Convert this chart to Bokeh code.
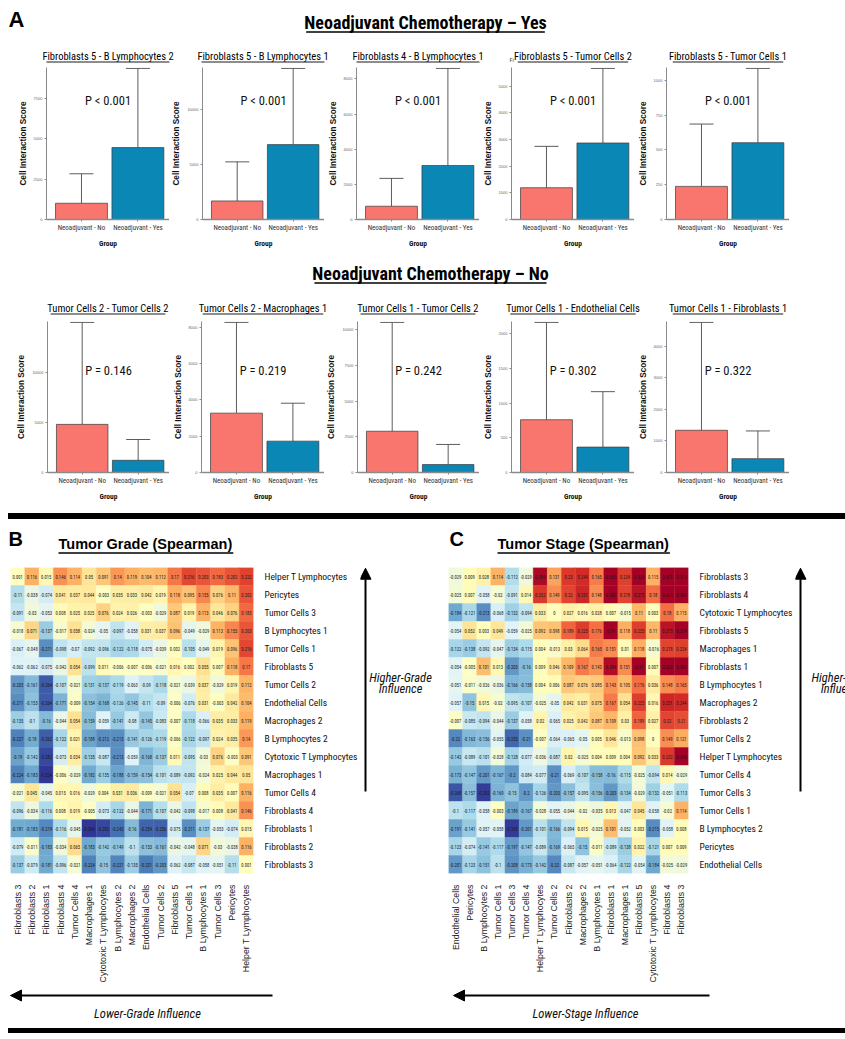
import math
import numpy as np
from bokeh.plotting import figure
from bokeh.models import (ColumnDataSource, Range1d, FixedTicker, Whisker, TeeHead, Label,
                          Arrow, NormalHead, FactorRange, Div, Spacer)
from bokeh.layouts import column, row
from bokeh.transform import linear_cmap
from bokeh.core.properties import value
from bokeh.embed import file_html
from bokeh.resources import INLINE

NARROW = "Roboto Condensed, DejaVu Sans Condensed, Liberation Sans Narrow, Arial Narrow, Liberation Sans"
ARIAL = "Liberation Sans"
RED = "#F8766D"
BLUE = "#0A87B5"

# ---------------- Panel A data ----------------
group_labels = ["Neoadjuvant - No", "Neoadjuvant - Yes"]

yes_titles = ["Fibroblasts 5 - B Lymphocytes 2", "Fibroblasts 5 - B Lymphocytes 1",
              "Fibroblasts 4 - B Lymphocytes 1", "Fibroblasts 5 - Tumor Cells 2",
              "Fibroblasts 5 - Tumor Cells 1"]
yes_mean_no = [1004, 1687, 755, 1190, 238]
yes_mean_yes = [4447, 6807, 3075, 2866, 552]
yes_err_no = [2828, 5241, 2340, 2740, 686]
yes_err_yes = [9344, 13735, 8600, 5660, 1086]
yes_ticks = [[0, 2500, 5000, 7500], [0, 5000, 10000], [0, 2000, 4000, 6000, 8000],
             [0, 1000, 2000, 3000, 4000, 5000], [0, 250, 500, 750, 1000]]
yes_p = ["P < 0.001", "P < 0.001", "P < 0.001", "P < 0.001", "P < 0.001"]

no_titles = ["Tumor Cells 2 - Tumor Cells 2", "Tumor Cells 2 - Macrophages 1",
             "Tumor Cells 1 - Tumor Cells 2", "Tumor Cells 1 - Endothelial Cells",
             "Tumor Cells 1 - Fibroblasts 1"]
no_mean_no = [4800, 3270, 2894, 762, 1340]
no_mean_yes = [1217, 1727, 556, 367, 440]
no_err_no = [14970, 8270, 10530, 2167, 4764]
no_err_yes = [3290, 3818, 1968, 1167, 1319]
no_ticks = [[0, 5000, 10000], [0, 2000, 4000, 6000, 8000], [0, 2500, 5000, 7500, 10000],
            [0, 500, 1000, 1500, 2000], [0, 1000, 2000, 3000, 4000]]
no_p = ["P = 0.146", "P = 0.219", "P = 0.242", "P = 0.302", "P = 0.322"]

# ---------------- Panel B data ----------------
grade_rows = ["Helper T Lymphocytes", "Pericytes", "Tumor Cells 3", "B Lymphocytes 1", "Tumor Cells 1",
              "Fibroblasts 5", "Tumor Cells 2", "Endothelial Cells", "Macrophages 2", "B Lymphocytes 2",
              "Cytotoxic T Lymphocytes", "Macrophages 1", "Tumor Cells 4", "Fibroblasts 4",
              "Fibroblasts 1", "Fibroblasts 2", "Fibroblasts 3"]
grade_cols = ["Fibroblasts 3", "Fibroblasts 2", "Fibroblasts 1", "Fibroblasts 4", "Tumor Cells 4",
              "Macrophages 1", "Cytotoxic T Lymphocytes", "B Lymphocytes 2", "Macrophages 2",
              "Endothelial Cells", "Tumor Cells 2", "Fibroblasts 5", "Tumor Cells 1", "B Lymphocytes 1",
              "Tumor Cells 3", "Pericytes", "Helper T Lymphocytes"]
grade_values = [
    [0.001, 0.116, 0.015, 0.146, 0.114, 0.05, 0.091, 0.14, 0.119, 0.104, 0.112, 0.17, 0.216, 0.203, 0.183, 0.202, 0.222],
    [-0.11, -0.038, -0.074, 0.041, 0.037, 0.044, -0.003, 0.035, 0.033, 0.042, 0.019, 0.118, 0.095, 0.155, 0.076, 0.11, 0.202],
    [-0.091, -0.03, -0.053, 0.008, 0.025, 0.025, 0.076, 0.024, 0.026, -0.003, -0.029, 0.087, 0.019, 0.113, 0.046, 0.076, 0.183],
    [-0.018, 0.071, -0.137, -0.017, 0.058, -0.024, -0.05, -0.097, -0.058, 0.031, 0.037, 0.096, -0.049, -0.029, 0.113, 0.155, 0.203],
    [-0.067, -0.048, -0.211, -0.098, -0.07, -0.092, -0.096, -0.122, -0.118, -0.075, -0.039, 0.002, -0.105, -0.049, 0.019, 0.096, 0.216],
    [-0.062, -0.062, -0.075, -0.042, 0.054, -0.099, 0.011, -0.006, -0.007, -0.006, -0.021, 0.016, 0.002, 0.055, 0.007, 0.118, 0.17],
    [-0.203, -0.161, -0.264, -0.107, -0.021, -0.131, -0.137, -0.119, -0.063, -0.09, -0.118, -0.021, -0.039, 0.037, -0.029, 0.019, 0.112],
    [-0.211, -0.153, -0.264, -0.171, -0.009, -0.154, -0.168, -0.126, -0.145, -0.11, -0.09, -0.006, -0.076, 0.031, -0.003, 0.042, 0.104],
    [-0.135, -0.1, -0.16, -0.044, 0.054, -0.159, -0.059, -0.141, -0.08, -0.145, -0.083, -0.007, -0.118, -0.066, 0.035, 0.033, 0.119],
    [-0.227, -0.18, -0.262, -0.122, 0.021, -0.188, -0.212, -0.213, -0.141, -0.126, -0.119, -0.006, -0.122, -0.097, 0.024, 0.035, 0.14],
    [-0.19, -0.142, -0.282, -0.073, 0.034, -0.135, -0.087, -0.213, -0.059, -0.168, -0.137, 0.011, -0.095, -0.03, 0.076, -0.003, 0.091],
    [-0.224, -0.183, -0.324, -0.006, -0.029, -0.182, -0.135, -0.188, -0.159, -0.154, -0.101, -0.089, -0.092, -0.024, 0.025, 0.044, 0.05],
    [-0.021, 0.045, -0.045, 0.015, 0.016, -0.029, 0.004, 0.031, 0.036, -0.009, -0.021, 0.054, -0.07, 0.008, 0.035, 0.007, 0.116],
    [-0.096, -0.034, -0.116, 0.008, 0.019, -0.005, -0.073, -0.122, -0.044, -0.171, -0.107, -0.042, -0.098, -0.017, 0.008, 0.041, 0.146],
    [-0.181, -0.183, -0.219, -0.116, -0.045, -0.304, -0.282, -0.243, -0.16, -0.254, -0.256, -0.075, -0.211, -0.137, -0.053, -0.074, 0.015],
    [-0.079, -0.011, -0.183, -0.034, 0.065, -0.183, -0.142, -0.149, -0.1, -0.153, -0.161, -0.042, -0.048, 0.071, -0.03, -0.038, 0.116],
    [-0.137, -0.079, -0.181, -0.096, -0.021, -0.224, -0.15, -0.221, -0.135, -0.231, -0.203, -0.062, -0.087, -0.058, -0.051, -0.11, 0.001],
]

# ---------------- Panel C data ----------------
stage_rows = ["Fibroblasts 3", "Fibroblasts 4", "Cytotoxic T Lymphocytes", "Fibroblasts 5", "Macrophages 1",
              "Fibroblasts 1", "B Lymphocytes 1", "Macrophages 2", "Fibroblasts 2", "Tumor Cells 2",
              "Helper T Lymphocytes", "Tumor Cells 4", "Tumor Cells 3", "Tumor Cells 1", "B Lymphocytes 2",
              "Pericytes", "Endothelial Cells"]
stage_cols = ["Endothelial Cells", "Pericytes", "B Lymphocytes 2", "Tumor Cells 1", "Tumor Cells 3",
              "Tumor Cells 4", "Helper T Lymphocytes", "Tumor Cells 2", "Fibroblasts 2", "Macrophages 2",
              "B Lymphocytes 1", "Fibroblasts 1", "Macrophages 1", "Fibroblasts 5",
              "Cytotoxic T Lymphocytes", "Fibroblasts 4", "Fibroblasts 3"]
stage_values = [
    [-0.029, 0.009, 0.028, 0.114, -0.112, -0.029, 0.289, 0.131, 0.23, 0.244, 0.165, 0.305, 0.224, 0.324, 0.115, 0.301, 0.314],
    [-0.025, 0.007, -0.058, -0.02, -0.091, 0.014, 0.232, 0.149, 0.22, 0.251, 0.148, 0.302, 0.218, 0.275, 0.18, 0.311, 0.301],
    [-0.184, -0.121, -0.213, -0.068, -0.132, -0.094, 0.033, 0.0, 0.027, 0.016, 0.028, 0.007, -0.015, 0.11, 0.003, 0.18, 0.115],
    [-0.054, 0.052, 0.003, 0.049, -0.059, -0.025, 0.092, 0.098, 0.189, 0.225, 0.176, 0.31, 0.118, 0.225, 0.11, 0.275, 0.324],
    [-0.122, -0.138, -0.092, -0.047, -0.134, -0.115, 0.004, -0.013, 0.03, 0.064, 0.165, 0.151, 0.01, 0.118, -0.016, 0.218, 0.224],
    [-0.054, -0.005, 0.101, 0.013, -0.203, -0.16, 0.009, 0.046, 0.109, 0.167, 0.143, 0.284, 0.151, 0.31, 0.007, 0.302, 0.301],
    [-0.051, -0.011, -0.026, -0.036, -0.166, -0.158, 0.004, 0.006, 0.087, 0.076, 0.085, 0.143, 0.105, 0.176, 0.036, 0.148, 0.165],
    [-0.057, -0.15, 0.015, -0.02, -0.095, -0.107, -0.025, -0.05, 0.042, 0.031, 0.075, 0.167, 0.054, 0.225, 0.016, 0.251, 0.244],
    [-0.007, -0.085, -0.094, -0.044, -0.137, -0.058, 0.02, -0.065, 0.025, 0.042, 0.087, 0.109, 0.03, 0.189, 0.027, 0.22, 0.21],
    [-0.22, -0.163, -0.156, -0.055, -0.253, -0.21, -0.007, -0.064, -0.065, -0.05, 0.005, 0.046, -0.013, 0.098, 0.0, 0.149, 0.121],
    [-0.142, -0.089, -0.101, -0.028, -0.128, -0.077, -0.036, -0.087, 0.02, -0.025, 0.004, 0.009, 0.004, 0.092, 0.033, 0.232, 0.299],
    [-0.173, -0.147, -0.201, -0.167, -0.2, -0.084, -0.077, -0.21, -0.069, -0.107, -0.158, -0.16, -0.115, -0.025, -0.094, 0.014, -0.029],
    [-0.268, -0.157, -0.292, -0.169, -0.15, -0.2, -0.126, -0.203, -0.157, -0.095, -0.156, -0.203, -0.134, -0.029, -0.132, -0.051, -0.113],
    [-0.1, -0.117, -0.058, -0.003, -0.189, -0.167, -0.028, -0.055, -0.044, -0.02, -0.035, 0.013, -0.047, 0.045, -0.058, -0.02, 0.114],
    [-0.191, -0.141, -0.057, -0.058, -0.293, -0.201, -0.101, -0.166, -0.094, 0.015, -0.025, 0.101, -0.052, 0.003, -0.215, -0.058, 0.008],
    [-0.123, -0.074, -0.141, -0.117, -0.197, -0.147, -0.089, -0.169, -0.065, -0.15, -0.011, -0.089, -0.138, 0.022, -0.121, 0.007, 0.009],
    [-0.201, -0.123, -0.151, -0.1, -0.208, -0.173, -0.142, -0.22, -0.087, -0.057, -0.051, -0.064, -0.122, -0.054, -0.184, -0.025, -0.029],
]

# ---------------- helpers ----------------
BASE = ["#313695", "#4575b4", "#74add1", "#abd9e9", "#e0f3f8", "#ffffbf",
        "#fee090", "#fdae61", "#f46d43", "#d73027", "#a50026"]


def interp_palette(base, n):
    rgb = np.array([[int(h[i:i + 2], 16) for i in (1, 3, 5)] for h in base], float)
    out = []
    for t in np.linspace(0, len(base) - 1, n):
        k = min(int(t), len(base) - 2)
        f = t - k
        c = rgb[k] * (1 - f) + rgb[k + 1] * f
        out.append("#%02x%02x%02x" % tuple(int(round(x)) for x in c))
    return out


PALETTE = interp_palette(BASE, 256)

_REG = {}
for chars, w in [("ijl", 222), ("ftI .", 278), ("r-()", 333), ("cksvxyzJ", 500),
                 ("abdeghnopquL0123456789\u2013", 556), ("<=", 584), ("FTZ", 611),
                 ("ABEKPSVXY", 667), ("CDHNRUw", 722), ("GOQ", 778), ("mM", 833), ("W", 944)]:
    for ch in chars:
        _REG[ch] = w
_BOLD = {}
for chars, w in [("ijlI .", 278), ("ft-()", 333), ("r", 389), ("z", 500),
                 ("aceksvxyJ0123456789\u2013", 556), ("<=", 584), ("bdghnopquFLTZ", 611),
                 ("EPSVXY", 667), ("ABCDHKNRU", 722), ("GOQw", 778), ("M", 833), ("m", 889), ("W", 944)]:
    for ch in chars:
        _BOLD[ch] = w


def text_width(s, size, bold=False, narrow=False):
    table = _BOLD if bold else _REG
    w = sum(table.get(ch, 556) for ch in s) / 1000.0 * size
    return w * (0.82 if narrow else 1.0)


def fmt(v):
    s = f"{v:.3f}".rstrip("0").rstrip(".")
    return "0" if s in ("-0", "") else s


def pixel_fig(w, h):
    """A blank figure whose data space equals its pixel space (origin top-left)."""
    p = figure(width=w, height=h, x_range=Range1d(0, w), y_range=Range1d(h, 0), title=None,
               min_border=0, output_backend="svg", toolbar_location=None)
    p.axis.visible = False
    p.grid.visible = False
    p.outline_line_color = None
    return p


def put_text(p, x, y, text, font, size, style="normal", align="left", baseline="alphabetic",
             color="black"):
    # y is the text baseline; convert to the visual middle of the capitals
    if baseline == "alphabetic":
        y = y - 0.36 * size
        baseline = "middle"
    p.text(x=[x], y=[y], text=[text], text_font=value(font), text_font_size=value(f"{size}px"),
           text_font_style=style, text_align=align, text_baseline=baseline, text_color=color)


def put_title(p, cx, y, text, font, size, bold, narrow, ul_gap, lw, align="center"):
    put_text(p, cx, y, text, font, size, "bold" if bold else "normal", align)
    w = text_width(text, size, bold, narrow)
    x0 = cx - w / 2 if align == "center" else cx
    p.segment(x0=[x0], y0=[y + ul_gap], x1=[x0 + w], y1=[y + ul_gap], line_color="black",
              line_width=lw)


def bar_fig(m_no, m_yes, e_no, e_yes, ticks, ptxt, height, bbot, p_off):
    ymax = max(e_no, e_yes) * 1.006
    fh = height - bbot
    p = figure(width=155, height=height, x_range=Range1d(0.38, 2.56), y_range=Range1d(0, ymax),
               title=None, min_border_left=32, min_border_right=0, min_border_top=0,
               min_border_bottom=bbot, output_backend="svg", toolbar_location=None)
    src = ColumnDataSource(dict(x=[1, 2], top=[m_no, m_yes], err=[e_no, e_yes], color=[RED, BLUE]))
    p.vbar(x="x", top="top", width=0.92, fill_color="color", line_color="#3a3a3a", line_width=0.7,
           source=src)
    p.add_layout(Whisker(source=src, base="x", lower="top", upper="err", dimension="height",
                         line_color="#4a4a4a", line_width=0.9,
                         upper_head=TeeHead(size=24, line_color="#4a4a4a", line_width=0.9),
                         lower_head=None))
    p.grid.visible = False
    p.outline_line_color = None
    p.xaxis.ticker = FixedTicker(ticks=[1, 2])
    p.xaxis.major_label_overrides = {1: group_labels[0], 2: group_labels[1]}
    p.xaxis.axis_label = "Group"
    p.xaxis.axis_label_text_font = NARROW
    p.xaxis.axis_label_text_font_style = "bold"
    p.xaxis.axis_label_text_font_size = "7.5px"
    p.xaxis.axis_label_text_color = "#111111"
    p.xaxis.axis_label_standoff = 4
    p.xaxis.major_label_text_font = NARROW
    p.xaxis.major_label_text_font_size = "7px"
    p.xaxis.major_label_text_color = "#333333"
    p.xaxis.major_label_standoff = 2
    p.xaxis.axis_line_color = "#8a8a8a"
    p.xaxis.axis_line_width = 1.6
    p.xaxis.major_tick_line_color = "#8a8a8a"
    p.xaxis.major_tick_out = 2
    p.xaxis.major_tick_in = 0
    p.yaxis.ticker = FixedTicker(ticks=ticks)
    p.yaxis.axis_label = "Cell Interaction Score"
    p.yaxis.axis_label_text_font = ARIAL
    p.yaxis.axis_label_text_font_style = "bold"
    p.yaxis.axis_label_text_font_size = "8.2px"
    p.yaxis.axis_label_text_color = "#111111"
    p.yaxis.axis_label_standoff = 3
    p.yaxis.major_label_text_font_size = "4px"
    p.yaxis.major_label_text_color = "#666666"
    p.yaxis.major_label_standoff = 2
    p.yaxis.axis_line_color = "#8a8a8a"
    p.yaxis.axis_line_width = 1.0
    p.yaxis.major_tick_line_color = "#8a8a8a"
    p.yaxis.major_tick_out = 2
    p.yaxis.major_tick_in = 0
    p.yaxis.minor_tick_line_color = None
    p.add_layout(Label(x=1.47, y=ymax * (fh - p_off) / fh, text=ptxt, text_font=NARROW,
                       text_font_size="12.5px", text_align="center", text_baseline="middle",
                       text_color="#111111"))
    return p


def heat_fig(rows, cols, mat, width, bl, br, height, bbot):
    p = figure(width=width, height=height, x_range=FactorRange(factors=cols),
               y_range=FactorRange(factors=rows[::-1]), y_axis_location="right", title=None,
               min_border_left=bl, min_border_right=br, min_border_top=0, min_border_bottom=bbot,
               output_backend="svg", toolbar_location=None)
    xs, ys, vs, ts = [], [], [], []
    for i, r in enumerate(rows):
        for j, c in enumerate(cols):
            xs.append(c)
            ys.append(r)
            vs.append(mat[i][j])
            ts.append(fmt(mat[i][j]))
    src = ColumnDataSource(dict(col=xs, row=ys, val=vs, label=ts))
    cmap = linear_cmap("val", PALETTE, -0.3, 0.3)
    p.rect(x="col", y="row", width=1, height=1, source=src, fill_color=cmap, line_color=cmap,
           line_width=0.4)
    p.text(x="col", y="row", text="label", source=src, text_font=value(NARROW),
           text_font_size="4.6px", text_align="center", text_baseline="middle", text_color="#1a1a1a")
    p.grid.visible = False
    p.outline_line_color = None
    p.axis.axis_line_color = None
    p.axis.major_tick_line_color = None
    p.xaxis.major_label_orientation = math.pi / 2
    p.xaxis.major_label_text_font = ARIAL
    p.xaxis.major_label_text_font_size = "8.8px"
    p.xaxis.major_label_text_color = "#1a1a1a"
    p.xaxis.major_label_standoff = 5
    p.yaxis.major_label_text_font = NARROW
    p.yaxis.major_label_text_font_size = "9.5px"
    p.yaxis.major_label_text_color = "#111111"
    p.yaxis.major_label_standoff = 5
    return p


def side_fig(w, h, ax, tx, hi_text):
    p = pixel_fig(w, h)
    p.add_layout(Arrow(x_start=ax, y_start=306, x_end=ax, y_end=1, line_color="black", line_width=2,
                       end=NormalHead(size=11, fill_color="black", line_color="black")))
    put_text(p, tx, 150, hi_text[0], NARROW, 12.5, "italic", "center", "middle", "#111111")
    put_text(p, tx, 165, hi_text[1], NARROW, 12.5, "italic", "center", "middle", "#111111")
    return p


# ---------------- Panel A: titles ----------------
axis_x = [46 + 155 * i for i in range(5)]

top1 = pixel_fig(845, 67)
put_text(top1, 8, 27, "A", ARIAL, 22, "bold")
put_title(top1, 425, 28, "Neoadjuvant Chemotherapy \u2013 Yes", NARROW, 18, True, True, 3.5, 1.6)
for i, t in enumerate(yes_titles):
    put_title(top1, axis_x[i] + 61.5, 59.5, t, NARROW, 10.5, False, True, 2, 0.9)
put_text(top1, 509, 61, "Fi", NARROW, 6, color="#444444")

figs1 = [bar_fig(yes_mean_no[i], yes_mean_yes[i], yes_err_no[i], yes_err_yes[i], yes_ticks[i], yes_p[i],
                 183, 31, 33) for i in range(5)]

top2 = pixel_fig(845, 71)
put_title(top2, 430, 29, "Neoadjuvant Chemotherapy \u2013 No", NARROW, 18, True, True, 3.5, 1.6)
for i, t in enumerate(no_titles):
    put_title(top2, axis_x[i] + 61.5, 61.5, t, NARROW, 10.5, False, True, 2, 0.9)

figs2 = [bar_fig(no_mean_no[i], no_mean_yes[i], no_err_no[i], no_err_yes[i], no_ticks[i], no_p[i],
                 187, 36, 49) for i in range(5)]

# ---------------- Panels B and C ----------------
top3 = pixel_fig(845, 48)
put_text(top3, 8, 27, "B", ARIAL, 20, "bold")
put_title(top3, 58, 30, "Tumor Grade (Spearman)", ARIAL, 14.5, True, False, 3.5, 1.5, align="left")
put_text(top3, 449, 27, "C", ARIAL, 20, "bold")
put_title(top3, 497, 30, "Tumor Stage (Spearman)", ARIAL, 14.5, True, False, 3.5, 1.5, align="left")

heatB = heat_fig(grade_rows, grade_cols, grade_values, 360, 10, 89, 418, 105)
sideB = side_fig(80, 418, 5, 40, ("Higher-Grade", "Influence"))
heatC = heat_fig(stage_rows, stage_cols, stage_values, 355, 8, 88, 418, 105)
sideC = side_fig(50, 418, 5, 47, ("Higher-Stage", "Influence"))

bottom = pixel_fig(845, 43)
bottom.add_layout(Arrow(x_start=272, y_start=10, x_end=10, y_end=10, line_color="black", line_width=2.2,
                        end=NormalHead(size=11, fill_color="black", line_color="black")))
bottom.add_layout(Arrow(x_start=709, y_start=10, x_end=453, y_end=10, line_color="black", line_width=2.2,
                        end=NormalHead(size=11, fill_color="black", line_color="black")))
put_text(bottom, 147, 28, "Lower-Grade Influence", NARROW, 12.5, "italic", "center", "middle", "#111111")
put_text(bottom, 585, 28, "Lower-Stage Influence", NARROW, 12.5, "italic", "center", "middle", "#111111")


def black_bar(h):
    return row(Spacer(width=8, height=h),
               Div(text="", width=837, height=h, margin=(0, 0, 0, 0),
                   styles={"background-color": "black"}))


layout = column(
    top1,
    row(Spacer(width=14, height=183), *figs1),
    top2,
    row(Spacer(width=14, height=187), *figs2),
    Spacer(width=845, height=5),
    black_bar(6),
    top3,
    row(heatB, sideB, heatC, sideC),
    bottom,
    black_bar(5),
)

open("out.html", "w").write(file_html(layout, INLINE))
